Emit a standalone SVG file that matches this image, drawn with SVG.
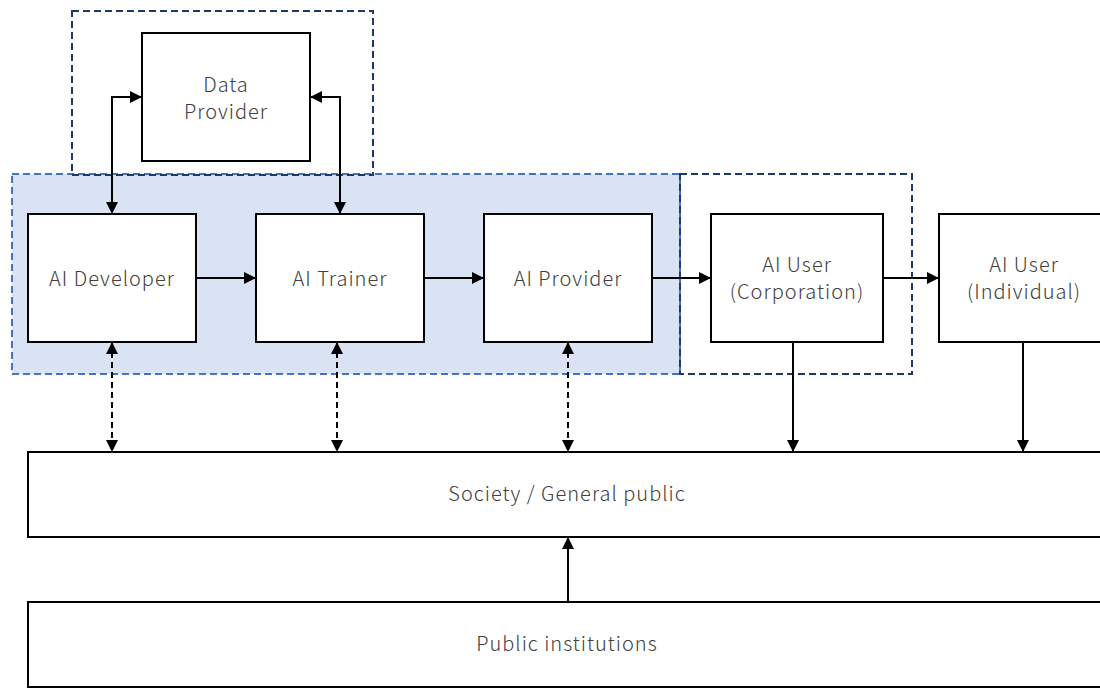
<svg xmlns="http://www.w3.org/2000/svg" width="1100" height="688" viewBox="0 0 1100 688">
<style>
.box{fill:#fff;stroke:#000;stroke-width:2}
.t{font-family:"Noto Sans CJK JP","Noto Sans",sans-serif;font-size:20px;fill:#404040;text-anchor:middle;font-weight:300;letter-spacing:1px}
.c{fill:none;stroke:#000;stroke-width:2}
.d{fill:none;stroke:#000;stroke-width:2;stroke-dasharray:6,4}
.g{fill:none;stroke:#203864;stroke-width:2;stroke-dasharray:7,4}
</style>
<defs>
<marker id="a" viewBox="0 0 10 10" refX="10" refY="5" markerWidth="12" markerHeight="12" orient="auto-start-reverse" markerUnits="userSpaceOnUse">
<path d="M0,0 L10,5 L0,10 z" fill="#000"/>
</marker>
</defs>
<rect width="1100" height="688" fill="#fff"/>
<g id="groups">
<rect x="12" y="174" width="668" height="200" fill="#dae3f3" stroke="#4472c4" stroke-width="2" stroke-dasharray="7,4"/>
<rect class="g" x="72" y="11" width="301" height="164"/>
<rect class="g" x="680" y="174" width="232" height="200"/>
</g>
<g id="data-provider"><rect class="box" x="142" y="33" width="168" height="128"/><text class="t" x="226" y="92">Data</text><text class="t" x="226" y="119">Provider</text></g>
<g id="ai-developer"><rect class="box" x="28" y="214" width="168" height="128"/><text class="t" x="112" y="286">AI Developer</text></g>
<g id="ai-trainer"><rect class="box" x="256" y="214" width="168" height="128"/><text class="t" x="340" y="286">AI Trainer</text></g>
<g id="ai-provider"><rect class="box" x="484" y="214" width="168" height="128"/><text class="t" x="568" y="286">AI Provider</text></g>
<g id="ai-user-corp"><rect class="box" x="711" y="214" width="172" height="128"/><text class="t" x="797" y="272">AI User</text><text class="t" x="797" y="299">(Corporation)</text></g>
<g id="ai-user-indiv"><rect class="box" x="939" y="214" width="172" height="128"/><text class="t" x="1024" y="272">AI User</text><text class="t" x="1024" y="299">(Individual)</text></g>
<g id="society"><rect class="box" x="28" y="452" width="1090" height="85"/><text class="t" x="567" y="501">Society / General public</text></g>
<g id="public"><rect class="box" x="28" y="602" width="1090" height="85"/><text class="t" x="567" y="651">Public institutions</text></g>
<g id="connectors">
<path class="c" d="M112,214 V97 H142" marker-start="url(#a)" marker-end="url(#a)"/>
<path class="c" d="M340,214 V97 H310" marker-start="url(#a)" marker-end="url(#a)"/>
<path class="c" d="M196,278 H256" marker-end="url(#a)"/>
<path class="c" d="M424,278 H484" marker-end="url(#a)"/>
<path class="c" d="M652,278 H711" marker-end="url(#a)"/>
<path class="c" d="M883,278 H939" marker-end="url(#a)"/>
<path class="d" d="M112,342 V452" marker-start="url(#a)" marker-end="url(#a)"/>
<path class="d" d="M337,342 V452" marker-start="url(#a)" marker-end="url(#a)"/>
<path class="d" d="M568,342 V452" marker-start="url(#a)" marker-end="url(#a)"/>
<path class="c" d="M793,342 V452" marker-end="url(#a)"/>
<path class="c" d="M1023,342 V452" marker-end="url(#a)"/>
<path class="c" d="M568,602 V537" marker-end="url(#a)"/>
</g>
</svg>
